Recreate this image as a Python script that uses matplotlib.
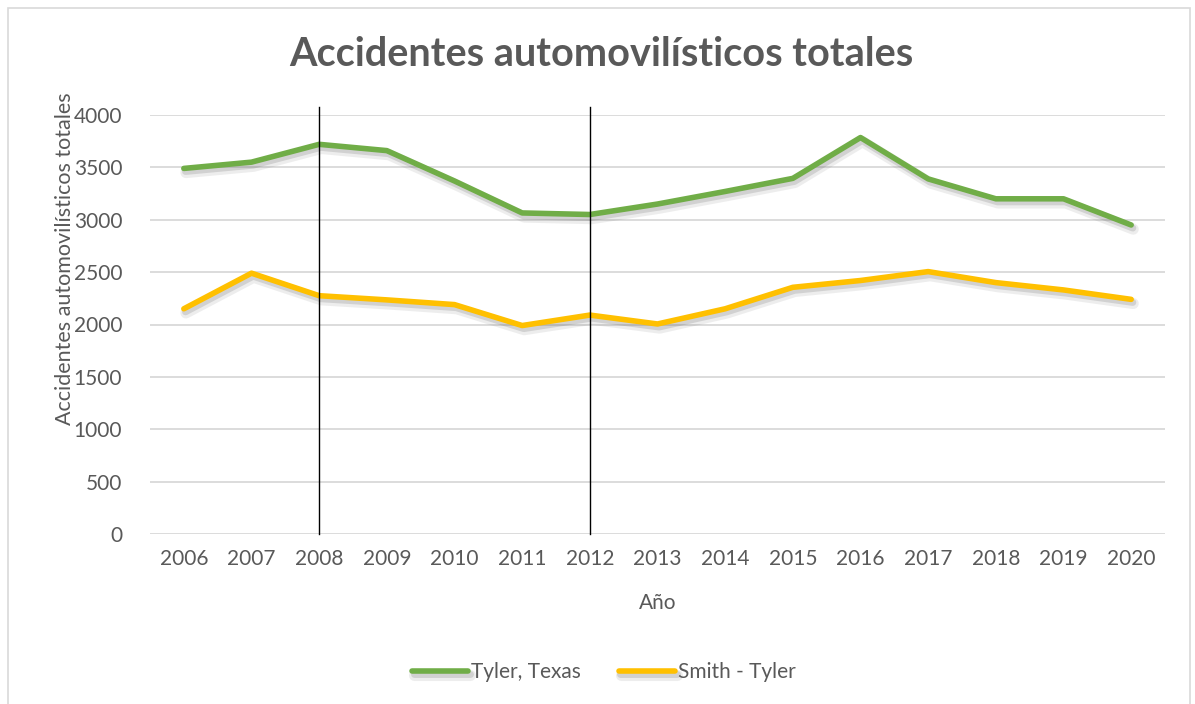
import matplotlib.pyplot as plt
import matplotlib.patheffects as pe
from matplotlib.patches import Rectangle

plt.rcParams['font.family'] = ['Lato', 'DejaVu Sans']

years = list(range(2006, 2021))
tyler_texas = [3490, 3550, 3720, 3660, 3370, 3065, 3050, 3150, 3270, 3395,
               3785, 3390, 3200, 3200, 2950]
smith_tyler = [2150, 2490, 2275, 2235, 2190, 1990, 2090, 2005, 2150, 2355,
               2420, 2505, 2400, 2330, 2240]
y_ticks = [0, 500, 1000, 1500, 2000, 2500, 3000, 3500, 4000]
marked_years = [2008, 2012]

text_col = '#595959'
grid_col = '#D9D9D9'

fig = plt.figure(figsize=(11.95, 7.04), dpi=100)
fig.patch.set_facecolor('white')

# light chart-area frame
fig.add_artist(Rectangle((8 / 1195, -0.01), 1182 / 1195, 1 - 8 / 704 + 0.01,
                         transform=fig.transFigure, fill=False,
                         edgecolor='#D9D9D9', linewidth=1.2))

ax = fig.add_axes([150 / 1195, 1 - 534 / 704, 1015 / 1195, 419 / 704])
x = list(range(len(years)))

# soft drop shadow under the series
shadow = [pe.SimpleLineShadow(offset=(1.5, -3), shadow_color='#555555',
                              alpha=0.10, linewidth=8),
          pe.SimpleLineShadow(offset=(1.2, -2.2), shadow_color='#555555',
                              alpha=0.18, linewidth=5),
          pe.Normal()]
ax.plot(x, tyler_texas, color='#70AD47', linewidth=4, solid_capstyle='round',
        solid_joinstyle='round', label='Tyler, Texas', path_effects=shadow,
        zorder=3)
ax.plot(x, smith_tyler, color='#FFC000', linewidth=4, solid_capstyle='round',
        solid_joinstyle='round', label='Smith - Tyler', path_effects=shadow,
        zorder=3)

# thin vertical marker lines
for yr in marked_years:
    i = years.index(yr)
    ax.plot([i, i], [0, 4080], color='black', linewidth=1, clip_on=False,
            zorder=4)

ax.set_xlim(-0.5, len(years) - 0.5)
ax.set_ylim(0, 4000)
ax.set_yticks(y_ticks)
ax.set_xticks(x)
ax.set_xticklabels([str(y) for y in years])
ax.grid(axis='y', color=grid_col, linewidth=1.3)
ax.set_axisbelow(True)
for s in ax.spines.values():
    s.set_visible(False)
ax.tick_params(length=0, labelsize=15, colors=text_col, pad=11)
ax.tick_params(axis='y', pad=20)

fig.text(601 / 1195, 1 - 55 / 704, 'Accidentes automovilísticos totales',
         ha='center', va='center', fontsize=28.5, fontweight='bold',
         color=text_col)
fig.text(65 / 1195, 1 - 259 / 704, 'Accidentes automovilísticos totales',
         ha='center', va='center', rotation=90, fontsize=15.5, color=text_col)
fig.text(658 / 1195, 1 - 603 / 704, 'Año', ha='center', va='center',
         fontsize=15, color=text_col)

leg = fig.legend(loc='center', bbox_to_anchor=(604 / 1195, 1 - 672 / 704),
                 ncol=2, frameon=False, fontsize=15, handlelength=2.7,
                 handletextpad=0.15, columnspacing=1.8)
for t in leg.get_texts():
    t.set_color(text_col)

fig.savefig('out.png', dpi=100, facecolor='white')
